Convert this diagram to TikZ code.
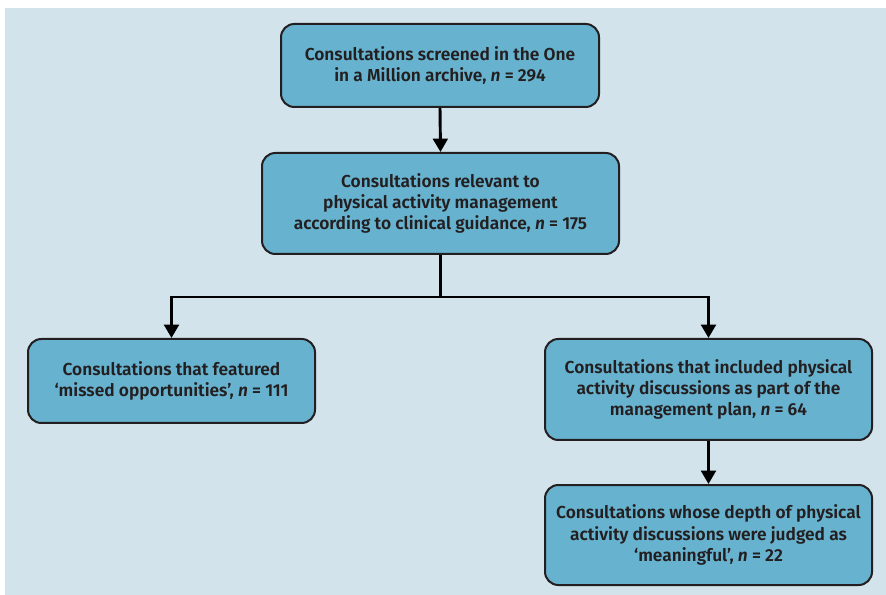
\documentclass[tikz,border=0pt]{standalone}
\usepackage{fontspec}
\setmainfont{Fira Sans}[BoldFont={Fira Sans SemiBold}, BoldItalicFont={Fira Sans SemiBold Italic}]
\usetikzlibrary{arrows.meta}
\definecolor{bgblue}{HTML}{D2E3EC}
\definecolor{boxblue}{HTML}{67B2CF}
\definecolor{inkdark}{HTML}{231F20}
\tikzset{
  stage/.style={draw=inkdark, line width=1.5pt, fill=boxblue, rounded corners=10pt,
    align=center, text=inkdark, inner sep=0pt,
    font=\bfseries\fontsize{13}{16}\selectfont},
  link/.style={draw=black, line width=2.2pt, line join=miter},
  flow/.style={link, -{Triangle[length=10pt,width=11pt]}}
}
\begin{document}
\begin{tikzpicture}[x=0.75pt,y=-0.75pt]
      \useasboundingbox (0,0) rectangle (886,595);
      \fill [bgblue] (5,8) rectangle (886,595);

      \node (screened) [stage, minimum width=238.5pt, minimum height=62.25pt] at (440,65.5)
        {Consultations screened in the One\\ in a Million archive, {\itshape n} = 294};
      \node (relevant) [stage, minimum width=267.75pt, minimum height=75.75pt] at (440.5,203.5)
        {Consultations relevant to\\ physical activity management\\ according to clinical guidance, {\itshape n} = 175};
      \node (missed) [stage, minimum width=215.25pt, minimum height=63pt] at (171.5,381)
        {Consultations that featured\\ ‘missed opportunities’, {\itshape n} = 111};
      \node (included) [stage, minimum width=245.25pt, minimum height=75.75pt] at (708.5,389.5)
        {Consultations that included physical\\ activity discussions as part of the\\ management plan, {\itshape n} = 64};
      \node (meaningful) [stage, minimum width=245.25pt, minimum height=75pt] at (708.5,535)
        {Consultations whose depth of physical\\ activity discussions were judged as\\ ‘meaningful’, {\itshape n} = 22};
      \coordinate (fork) at (440.5,297);

      \draw [flow] (screened.south) -- (relevant.north);
      \draw [link] (relevant.south) -- (fork);
      \draw [flow] (fork) -| (missed.north);
      \draw [flow] (fork) -| (included.north);
      \draw [flow] (included.south) -- (meaningful.north);
    \end{tikzpicture}
\end{document}
